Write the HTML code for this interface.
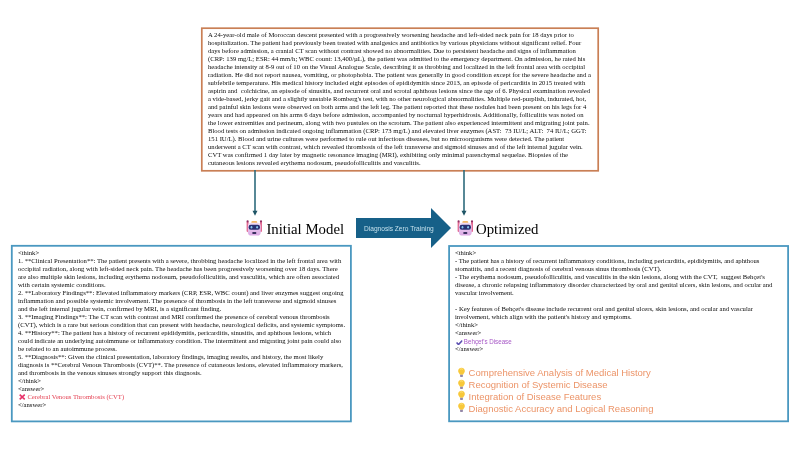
<!DOCTYPE html>
<html><head><meta charset="utf-8">
<style>
html,body{margin:0;padding:0;background:#fff;width:800px;height:450px;overflow:hidden;position:relative}
body{filter:blur(0.35px)}
.t{position:absolute;font-family:"Liberation Serif",serif;font-size:7.0px;line-height:8px;color:#0a0a0a;transform-origin:0 0;transform:scaleX(0.95)}
.t div{height:8px;white-space:pre}
.title{position:absolute;font-family:"Liberation Serif",serif;font-size:14.8px;color:#000;white-space:pre;line-height:15px}
#big{position:absolute;left:356px;top:208.1px}
.bul{position:absolute;font-family:"Liberation Sans",sans-serif;font-size:9.5px;color:#ec9468;white-space:pre;line-height:12px}
</style></head><body>
<svg style="position:absolute;left:0;top:0" width="800" height="450" viewBox="0 0 800 450">
<rect x="201.8" y="28.2" width="396.4" height="142.6" fill="none" stroke="#c97f55" stroke-width="1.7"/>
<rect x="11.8" y="245.8" width="339.1" height="175.6" fill="none" stroke="#4a98c0" stroke-width="1.8"/>
<rect x="449.1" y="246" width="339" height="175.3" fill="none" stroke="#4a98c0" stroke-width="1.8"/>
</svg>

<div class="t" style="left:208px;top:31.1px">
<div>A 24-year-old male of Moroccan descent presented with a progressively worsening headache and left-sided neck pain for 18 days prior to</div>
<div>hospitalization. The patient had previously been treated with analgesics and antibiotics by various physicians without significant relief. Four</div>
<div>days before admission, a cranial CT scan without contrast showed no abnormalities. Due to persistent headache and signs of inflammation</div>
<div>(CRP: 139 mg/L; ESR: 44 mm/h; WBC count: 13,400/µL), the patient was admitted to the emergency department. On admission, he rated his</div>
<div>headache intensity at 8-9 out of 10 on the Visual Analogue Scale, describing it as throbbing and localized in the left frontal area with occipital</div>
<div>radiation. He did not report nausea, vomiting, or photophobia. The patient was generally in good condition except for the severe headache and a</div>
<div>subfebrile temperature. His medical history included eight episodes of epididymitis since 2013, an episode of pericarditis in 2015 treated with</div>
<div>aspirin and  colchicine, an episode of sinusitis, and recurrent oral and scrotal aphthous lesions since the age of 6. Physical examination revealed</div>
<div>a vide-based, jerky gait and a slightly unstable Romberg's test, with no other neurological abnormalities. Multiple red-purplish, indurated, hot,</div>
<div>and painful skin lesions were observed on both arms and the left leg. The patient reported that these nodules had been present on his legs for 4</div>
<div>years and had appeared on his arms 6 days before admission, accompanied by nocturnal hyperhidrosis. Additionally, folliculitis was noted on</div>
<div>the lower extremities and perineum, along with two pustules on the scrotum. The patient also experienced intermittent and migrating joint pain.</div>
<div>Blood tests on admission indicated ongoing inflammation (CRP: 173 mg/L) and elevated liver enzymes (AST:  73 IU/L; ALT:  74 IU/L; GGT:</div>
<div>151 IU/L). Blood and urine cultures were performed to rule out infectious diseases, but no microorganisms were detected. The patient</div>
<div>underwent a CT scan with contrast, which revealed thrombosis of the left transverse and sigmoid sinuses and of the left internal jugular vein.</div>
<div>CVT was confirmed 1 day later by magnetic resonance imaging (MRI), exhibiting only minimal parenchymal sequelae. Biopsies of the</div>
<div>cutaneous lesions revealed erythema nodosum, pseudofolliculitis and vasculitis.</div>
</div>

<!-- arrows -->
<svg style="position:absolute;left:250.8px;top:170px" width="8" height="47" viewBox="0 0 8 47"><rect x="3.2" y="0" width="1.6" height="42" fill="#2f6b7d"/><polygon points="1.5,40.8 6.5,40.8 4,45.8" fill="#1f5566"/></svg>
<svg style="position:absolute;left:460px;top:170px" width="8" height="47" viewBox="0 0 8 47"><rect x="3.2" y="0" width="1.6" height="42" fill="#2f6b7d"/><polygon points="1.5,40.8 6.5,40.8 4,45.8" fill="#1f5566"/></svg>

<!-- titles -->
<div class="title" style="left:266.4px;top:221.8px">Initial Model</div>
<div class="title" style="left:476px;top:221.8px">Optimized</div>

<svg id="big" width="96" height="41" viewBox="0 0 96 41">
<polygon points="0,10 75,10 75,0 95,20 75,40 75,30 0,30" fill="#166088"/>
</svg>



<div class="t" style="left:18px;top:249.0px">
<div>&lt;think&gt;</div>
<div>1. **Clinical Presentation**: The patient presents with a severe, throbbing headache localized in the left frontal area with</div>
<div>occipital radiation, along with left-sided neck pain. The headache has been progressively worsening over 18 days. There</div>
<div>are also multiple skin lesions, including erythema nodosum, pseudofolliculitis, and vasculitis, which are often associated</div>
<div>with certain systemic conditions.</div>
<div>2. **Laboratory Findings**: Elevated inflammatory markers (CRP, ESR, WBC count) and liver enzymes suggest ongoing</div>
<div>inflammation and possible systemic involvement. The presence of thrombosis in the left transverse and sigmoid sinuses</div>
<div>and the left internal jugular vein, confirmed by MRI, is a significant finding.</div>
<div>3. **Imaging Findings**: The CT scan with contrast and MRI confirmed the presence of cerebral venous thrombosis</div>
<div>(CVT), which is a rare but serious condition that can present with headache, neurological deficits, and systemic symptoms.</div>
<div>4. **History**: The patient has a history of recurrent epididymitis, pericarditis, sinusitis, and aphthous lesions, which</div>
<div>could indicate an underlying autoimmune or inflammatory condition. The intermittent and migrating joint pain could also</div>
<div>be related to an autoimmune process.</div>
<div>5. **Diagnosis**: Given the clinical presentation, laboratory findings, imaging results, and history, the most likely</div>
<div>diagnosis is **Cerebral Venous Thrombosis (CVT)**. The presence of cutaneous lesions, elevated inflammatory markers,</div>
<div>and thrombosis in the venous sinuses strongly support this diagnosis.</div>
<div>&lt;/think&gt;</div>
<div>&lt;answer&gt;</div>
<div><svg style="position:relative;left:1.3px;top:0.6px;margin-right:3px" width="6.9" height="6" viewBox="0 0 6.2 6" preserveAspectRatio="none"><path d="M0.7 0.6 L5.5 5.4 M5.5 0.6 L0.7 5.4" stroke="#e8336a" stroke-width="1.5"/></svg><span style="color:#e43e50">Cerebral Venous Thrombosis (CVT)</span></div>
<div>&lt;/answer&gt;</div>
</div>

<div class="t" style="left:455px;top:249.0px">
<div>&lt;think&gt;</div>
<div>- The patient has a history of recurrent inflammatory conditions, including pericarditis, epididymitis, and aphthous</div>
<div>stomatitis, and a recent diagnosis of cerebral venous sinus thrombosis (CVT).</div>
<div>- The erythema nodosum, pseudofolliculitis, and vasculitis in the skin lesions, along with the CVT,  suggest Behçet's</div>
<div>disease, a chronic relapsing inflammatory disorder characterized by oral and genital ulcers, skin lesions, and ocular and</div>
<div>vascular involvement.</div>
<div></div>
<div>- Key features of Behçet's disease include recurrent oral and genital ulcers, skin lesions, and ocular and vascular</div>
<div>involvement, which align with the patient's history and symptoms.</div>
<div>&lt;/think&gt;</div>
<div>&lt;answer&gt;</div>
<div><svg style="position:relative;left:1.1px;top:1.9px;margin-right:2px" width="7.3" height="5.4" viewBox="0 0 6.6 5.4" preserveAspectRatio="none"><path d="M0.6 2.6 L2.4 4.6 L6.1 0.6" stroke="#5b4fb0" stroke-width="1.5" fill="none"/></svg><span style="font-family:'Liberation Sans',sans-serif;color:#a656c6;font-size:6.55px;position:relative;top:1px">Behçet's Disease</span></div>
<div>&lt;/answer&gt;</div>
</div>

<div class="bul" style="left:468.6px;top:367px">Comprehensive Analysis of Medical History</div>
<div class="bul" style="left:468.6px;top:378.8px">Recognition of Systemic Disease</div>
<div class="bul" style="left:468.6px;top:390.6px">Integration of Disease Features</div>
<div class="bul" style="left:468.6px;top:402.5px">Diagnostic Accuracy and Logical Reasoning</div>

<div id="bigtxt" style="position:absolute;left:364.1px;top:223.7px;font-family:'Liberation Sans',sans-serif;font-size:7.3px;color:#c4e0ec;white-space:pre;line-height:10px;transform-origin:0 0;transform:scaleX(0.905)">Diagnosis Zero Training</div>


<svg style="position:absolute;left:456.8px;top:366.9px" width="9" height="11" viewBox="0 0 10 12">
<path d="M5 0.7 C2.7 0.7 1.3 2.4 1.3 4.3 C1.3 5.9 2.4 6.7 3 7.9 L3.3 8.6 L6.7 8.6 L7 7.9 C7.6 6.7 8.7 5.9 8.7 4.3 C8.7 2.4 7.3 0.7 5 0.7 Z" fill="#f8c83a"/>
<path d="M3.3 2.6 C4 1.8 5.6 1.7 6.5 2.5" stroke="#fde78f" stroke-width="1" fill="none"/>
<rect x="3.4" y="8.6" width="3.2" height="2.3" rx="0.7" fill="#9488a8"/>
</svg>
<svg style="position:absolute;left:456.8px;top:378.6px" width="9" height="11" viewBox="0 0 10 12">
<path d="M5 0.7 C2.7 0.7 1.3 2.4 1.3 4.3 C1.3 5.9 2.4 6.7 3 7.9 L3.3 8.6 L6.7 8.6 L7 7.9 C7.6 6.7 8.7 5.9 8.7 4.3 C8.7 2.4 7.3 0.7 5 0.7 Z" fill="#f8c83a"/>
<path d="M3.3 2.6 C4 1.8 5.6 1.7 6.5 2.5" stroke="#fde78f" stroke-width="1" fill="none"/>
<rect x="3.4" y="8.6" width="3.2" height="2.3" rx="0.7" fill="#9488a8"/>
</svg>
<svg style="position:absolute;left:456.8px;top:390.3px" width="9" height="11" viewBox="0 0 10 12">
<path d="M5 0.7 C2.7 0.7 1.3 2.4 1.3 4.3 C1.3 5.9 2.4 6.7 3 7.9 L3.3 8.6 L6.7 8.6 L7 7.9 C7.6 6.7 8.7 5.9 8.7 4.3 C8.7 2.4 7.3 0.7 5 0.7 Z" fill="#f8c83a"/>
<path d="M3.3 2.6 C4 1.8 5.6 1.7 6.5 2.5" stroke="#fde78f" stroke-width="1" fill="none"/>
<rect x="3.4" y="8.6" width="3.2" height="2.3" rx="0.7" fill="#9488a8"/>
</svg>
<svg style="position:absolute;left:456.8px;top:402.0px" width="9" height="11" viewBox="0 0 10 12">
<path d="M5 0.7 C2.7 0.7 1.3 2.4 1.3 4.3 C1.3 5.9 2.4 6.7 3 7.9 L3.3 8.6 L6.7 8.6 L7 7.9 C7.6 6.7 8.7 5.9 8.7 4.3 C8.7 2.4 7.3 0.7 5 0.7 Z" fill="#f8c83a"/>
<path d="M3.3 2.6 C4 1.8 5.6 1.7 6.5 2.5" stroke="#fde78f" stroke-width="1" fill="none"/>
<rect x="3.4" y="8.6" width="3.2" height="2.3" rx="0.7" fill="#9488a8"/>
</svg>
<svg class="robot" style="position:absolute;left:245.3px;top:219px" width="18" height="18" viewBox="0 0 18 18">
<defs><linearGradient id="hg1" x1="0" y1="0" x2="0" y2="1"><stop offset="0" stop-color="#f0dcf5"/><stop offset="1" stop-color="#dba8e4"/></linearGradient></defs>
<rect x="1.6" y="2.4" width="2" height="10.6" rx="1" fill="#e26a92"/>
<rect x="15" y="2.4" width="2" height="10.6" rx="1" fill="#e26a92"/>
<circle cx="2.6" cy="2.4" r="1.1" fill="#932f64"/>
<circle cx="16" cy="2.4" r="1.1" fill="#932f64"/>
<rect x="6.4" y="2" width="5.8" height="2.6" rx="1.2" fill="#f5bb66"/>
<rect x="2.9" y="3.8" width="12.8" height="12.8" rx="3.4" fill="url(#hg1)"/>
<rect x="3.6" y="5.8" width="11.4" height="4.9" rx="2.2" fill="#283070"/>
<ellipse cx="6.5" cy="8.2" rx="0.9" ry="1.2" fill="#86c8f0"/>
<ellipse cx="12.1" cy="8.2" rx="0.9" ry="1.2" fill="#86c8f0"/>
<rect x="7.3" y="13.1" width="4" height="1.8" rx="0.6" fill="#3b3060"/>
</svg>
<svg class="robot" style="position:absolute;left:455.8px;top:219px" width="18" height="18" viewBox="0 0 18 18">
<defs><linearGradient id="hg2" x1="0" y1="0" x2="0" y2="1"><stop offset="0" stop-color="#f0dcf5"/><stop offset="1" stop-color="#dba8e4"/></linearGradient></defs>
<rect x="1.6" y="2.4" width="2" height="10.6" rx="1" fill="#e26a92"/>
<rect x="15" y="2.4" width="2" height="10.6" rx="1" fill="#e26a92"/>
<circle cx="2.6" cy="2.4" r="1.1" fill="#932f64"/>
<circle cx="16" cy="2.4" r="1.1" fill="#932f64"/>
<rect x="6.4" y="2" width="5.8" height="2.6" rx="1.2" fill="#f5bb66"/>
<rect x="2.9" y="3.8" width="12.8" height="12.8" rx="3.4" fill="url(#hg2)"/>
<rect x="3.6" y="5.8" width="11.4" height="4.9" rx="2.2" fill="#283070"/>
<ellipse cx="6.5" cy="8.2" rx="0.9" ry="1.2" fill="#86c8f0"/>
<ellipse cx="12.1" cy="8.2" rx="0.9" ry="1.2" fill="#86c8f0"/>
<rect x="7.3" y="13.1" width="4" height="1.8" rx="0.6" fill="#3b3060"/>
</svg>
</body></html>
